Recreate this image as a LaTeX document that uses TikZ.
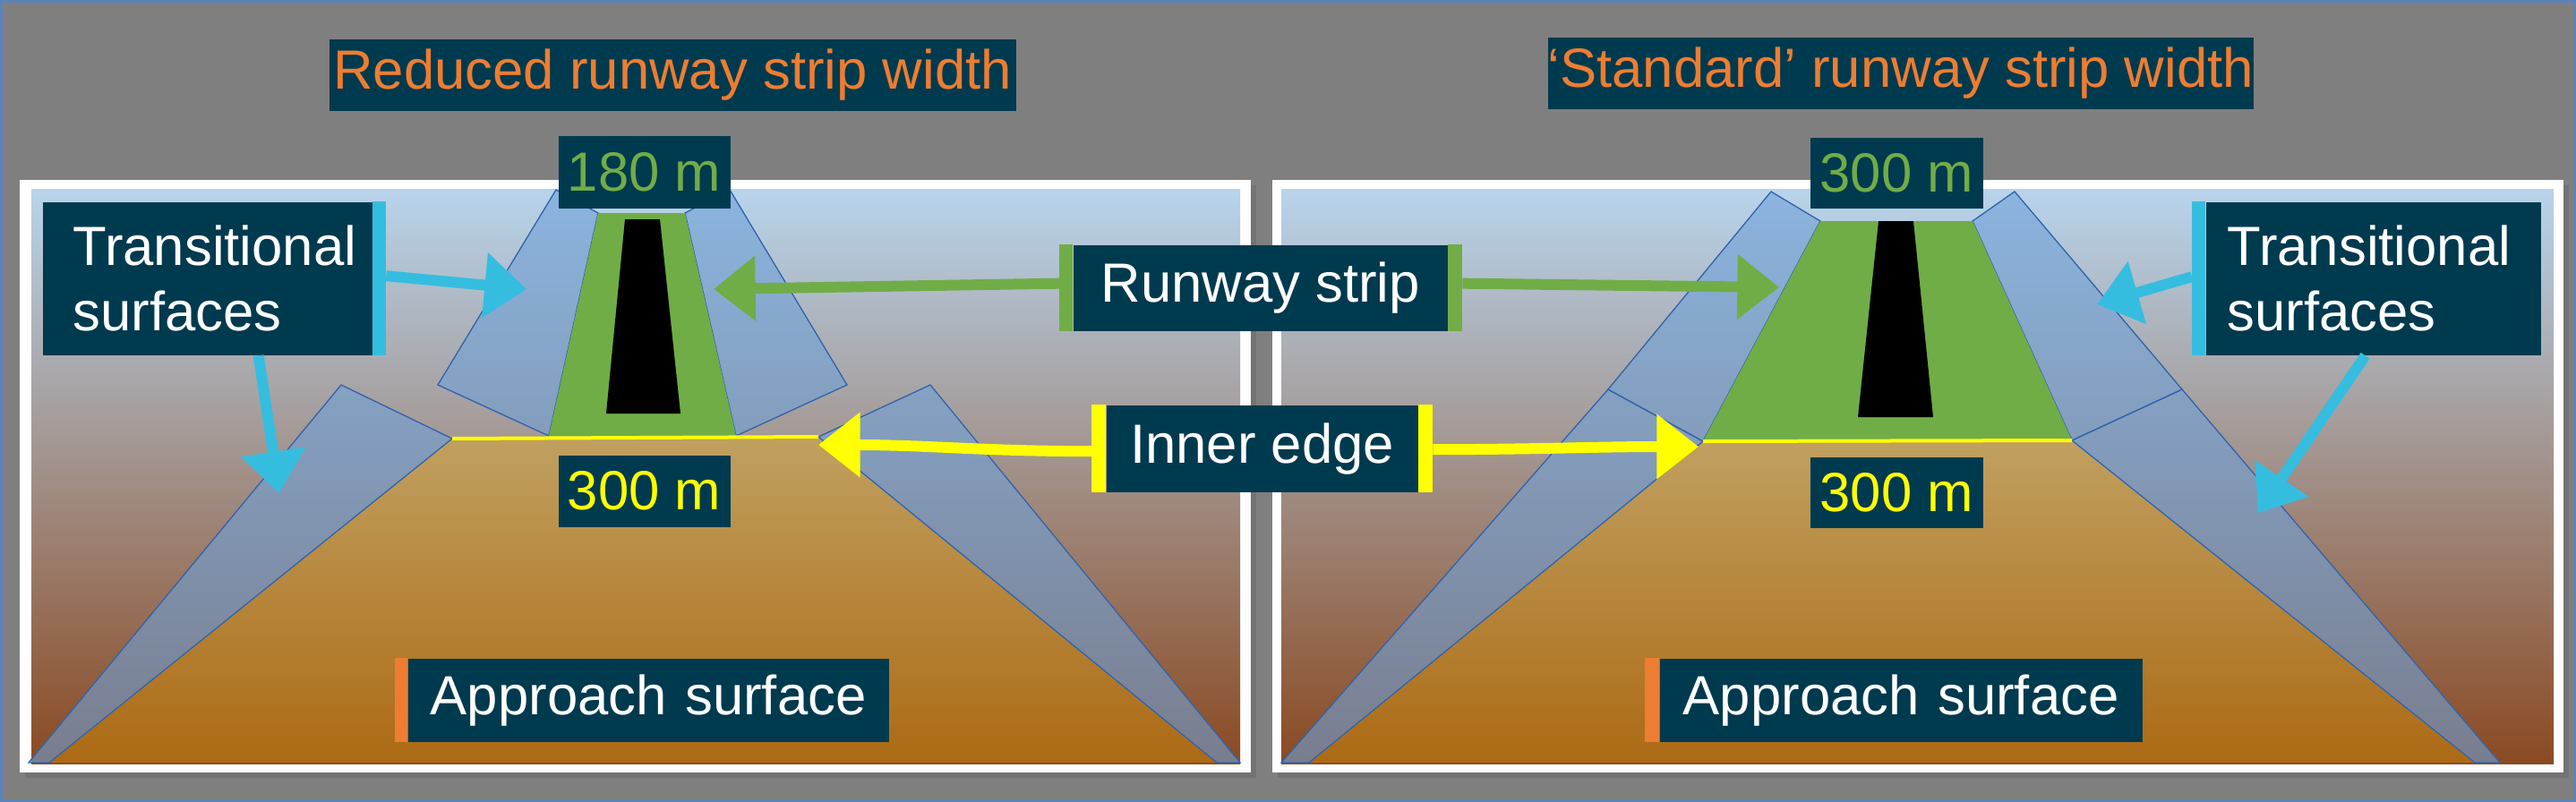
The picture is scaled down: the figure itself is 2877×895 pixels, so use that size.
\documentclass[tikz,border=0pt]{standalone}
\usepackage{fontspec}
\setmainfont{Liberation Sans}
\usetikzlibrary{arrows.meta,calc}
\definecolor{boxc}{RGB}{0,58,79}
\definecolor{stripg}{RGB}{112,173,71}
\definecolor{cyanc}{RGB}{53,189,224}
\definecolor{orangec}{RGB}{237,125,49}
\definecolor{yel}{RGB}{255,255,0}
\definecolor{bgc}{RGB}{127,127,127}
\definecolor{skytop}{RGB}{184,212,236}
\definecolor{skymid}{RGB}{165,155,150}
\definecolor{skybot}{RGB}{138,74,34}
\definecolor{apptop}{RGB}{192,160,96}
\definecolor{appbot}{RGB}{172,106,20}
\definecolor{transc}{RGB}{110,160,215}
\definecolor{edgec}{RGB}{50,100,170}
\begin{document}
\begin{tikzpicture}[x=0.3pt,y=-0.3pt,
  box/.style={fill=boxc,inner sep=0pt,text=white,font=\fontsize{18.5}{22}\selectfont,anchor=north west},
  trans/.style={fill=transc,fill opacity=0.6,draw=edgec,line width=0.4pt},
  arr/.style={line width=3.6pt,-{Triangle[length=14pt,width=21pt]}}]
\useasboundingbox (0,0) rectangle (2877,895);
\fill[bgc] (0,0) rectangle (2877,895);
\draw[edgec!80,line width=1.5pt] (0,0) rectangle (2877,895);
% frames
\foreach \a/\b in {22/1397,1421/2863}{
  \fill[black!55] (\a+6,207) rectangle (\b+6,869);
  \fill[white] (\a,201) rectangle (\b,863);
}
\foreach \a/\b in {35/1385,1431/2852}{
  \shade[top color=skytop,middle color=skymid,bottom color=skybot] (\a,211) rectangle (\b,853);
}
% ---------- left panel
\shade[top color=apptop,bottom color=appbot] (505,490) -- (914,488) -- (1359,852) -- (55,852) -- cycle;
\draw[trans] (381,430) -- (505,490) -- (55,852) -- (32,852) -- cycle;
\draw[trans] (1039,430) -- (914,488) -- (1359,852) -- (1385,852) -- cycle;
\draw[trans] (621,212) -- (668,238) -- (613,487) -- (489,430) -- cycle;
\draw[trans] (815,212) -- (765,238) -- (822,487) -- (946,430) -- cycle;
\fill[stripg] (668,238) -- (765,238) -- (822,487) -- (613,487) -- cycle;
\fill[black] (698,245) -- (737,245) -- (760,462) -- (677,462) -- cycle;
\draw[yel,line width=1.2pt] (505,490) -- (914,488);
% ---------- right panel
\shade[top color=apptop,bottom color=appbot] (1902,493) -- (2314,492) -- (2764,852) -- (1462,852) -- cycle;
\draw[trans] (1796,435) -- (1902,493) -- (1462,852) -- (1431,852) -- cycle;
\draw[trans] (2437,435) -- (2314,492) -- (2764,852) -- (2792,852) -- cycle;
\draw[trans] (1978,214) -- (2033,247) -- (1902,493) -- (1796,435) -- cycle;
\draw[trans] (2250,214) -- (2203,247) -- (2314,492) -- (2437,435) -- cycle;
\fill[stripg] (2033,247) -- (2203,247) -- (2314,492) -- (1902,493) -- cycle;
\fill[black] (2098,247) -- (2137,247) -- (2159,466) -- (2075,466) -- cycle;
\draw[yel,line width=1.2pt] (1902,493) -- (2314,492);
% ---------- titles
\node[box,minimum width=767*0.3pt,minimum height=80*0.3pt,text=orangec] (t1) at (367,43) {Reduced runway strip width};
\node[box,minimum width=782*0.3pt,minimum height=80*0.3pt,text=orangec] (t2) at (1728,41) {‘Standard’ runway strip width};
% ---------- labels
\node[box,minimum width=192*0.3pt,minimum height=81*0.3pt,text=stripg] (w1) at (623,151) {180 m};
\node[box,minimum width=192*0.3pt,minimum height=80*0.3pt,text=yel] (w2) at (623,508) {300 m};
\node[box,minimum width=193*0.3pt,minimum height=79*0.3pt,text=stripg] (w3) at (2021,153) {300 m};
\node[box,minimum width=193*0.3pt,minimum height=79*0.3pt,text=yel] (w4) at (2021,510) {300 m};
\node[box,minimum width=368*0.3pt,minimum height=171*0.3pt,text width=360*0.3pt,align=left] (tl) at (47,225) {\hspace*{9pt}Transitional\\\hspace*{9pt}surfaces};
\fill[cyanc] (tl.north east) rectangle ($(tl.south east)+(15,0)$);
\node[box,minimum width=374*0.3pt,minimum height=171*0.3pt,text width=366*0.3pt,align=left] (tr) at (2463,225) {\hspace*{6pt}Transitional\\\hspace*{6pt}surfaces};
\fill[cyanc] ($(tr.north west)+(-15,0)$) rectangle (tr.south west);
\node[box,minimum width=418*0.3pt,minimum height=96*0.3pt] (rs) at (1198,273) {Runway strip};
\fill[stripg] ($(rs.north west)+(-15,0)$) rectangle (rs.south west);
\fill[stripg] (rs.north east) rectangle ($(rs.south east)+(16,0)$);
\node[box,minimum width=348*0.3pt,minimum height=97*0.3pt] (ie) at (1235,452) {Inner edge};
\fill[yel] ($(ie.north west)+(-16,0)$) rectangle (ie.south west);
\fill[yel] (ie.north east) rectangle ($(ie.south east)+(16,0)$);
\node[box,minimum width=537*0.3pt,minimum height=93*0.3pt,text width=520*0.3pt,align=left] (a1) at (455,735) {\hspace*{5pt}Approach surface};
\fill[orangec] ($(a1.north west)+(-14,0)$) rectangle (a1.south west);
\node[box,minimum width=539*0.3pt,minimum height=93*0.3pt,text width=520*0.3pt,align=left] (a2) at (1853,735) {\hspace*{5pt}Approach surface};
\fill[orangec] ($(a2.north west)+(-16,0)$) rectangle (a2.south west);
% ---------- arrows
\coordinate (c1) at (588,323);
\coordinate (c2) at (312,551);
\coordinate (c3) at (2342,340);
\coordinate (c4) at (2522,573);
\coordinate (g1) at (797,323);
\coordinate (g2) at (1987,321);
\coordinate (y1) at (914,497);
\coordinate (y2) at (1897,499);
\draw[arr,cyanc] ($(tl.east)+(15,-3)$) -- (c1);
\draw[arr,cyanc] ($(tl.south)+(57,0)$) -- (c2);
\draw[arr,cyanc] ($(tr.west)+(-15,-2)$) -- (c3);
\draw[arr,cyanc] ($(tr.south)+(-9,0)$) -- (c4);
\draw[arr,stripg] ($(rs.west)+(-15,-5)$) -- (g1);
\draw[arr,stripg] ($(rs.east)+(16,-5)$) -- (g2);
\draw[arr,yel] ($(ie.west)+(-16,3)$) to[out=180,in=0] (y1);
\draw[arr,yel] ($(ie.east)+(16,1)$) to[out=0,in=180] (y2);
\end{tikzpicture}
\end{document}
